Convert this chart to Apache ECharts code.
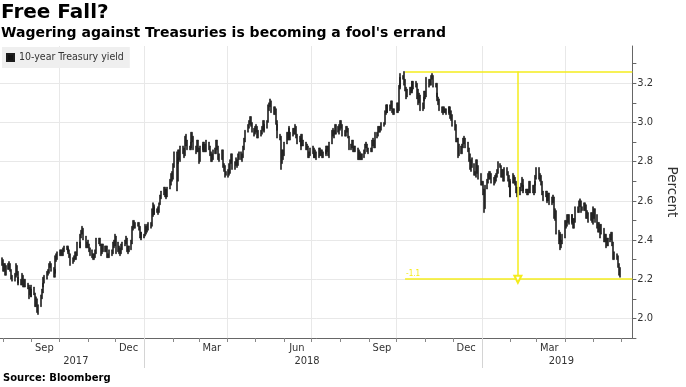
<!DOCTYPE html>
<html><head><meta charset="utf-8">
<script src="https://cdn.jsdelivr.net/npm/echarts@6/dist/echarts.min.js"></script>
<style>html,body{margin:0;padding:0;background:#fff}#c{width:686px;height:387px}</style>
</head><body><div id="c"></div>
<script>
// ---- data (10-year Treasury yield, daily low / high, weekdays from startDate) ----
const seriesName = '10-year Treasury yield';
const startDate = '2017-07-31';
const lows = [
2.27,2.24,2.24,2.22,2.22, 2.25,2.25,2.24,2.20,2.19, 2.19,2.21,2.22,2.18,2.17, 2.17,2.17,2.16,2.16,2.16,
2.15,2.10,2.12,2.11,2.11, 2.12,2.06,2.06,2.03,2.02, 2.06,2.10,2.13,2.16,2.18, 2.20,2.22,2.23,2.26,2.24,
2.21,2.21,2.23,2.29,2.30, 2.32,2.32,2.32,2.32,2.34, 2.35,2.34,2.33,2.31,2.27, 2.28,2.29,2.30,2.30,2.32,
2.36,2.36,2.41,2.43,2.40, 2.36,2.36,2.36,2.34,2.32, 2.31,2.30,2.30,2.31,2.33, 2.38,2.37,2.32,2.33,2.34,
2.34,2.34,2.31,2.31,2.31, 2.32,2.33,2.36,2.37,2.33, 2.34,2.33,2.32,2.33,2.35, 2.37,2.38,2.34,2.33,2.34,
2.35,2.38,2.45,2.46,2.46, 2.47,2.45,2.41,2.41,2.40, 2.41,2.42,2.43,2.44,2.45, 2.46,2.47,2.52,2.53,2.53,
2.54,2.53,2.54,2.58,2.61, 2.63,2.62,2.62,2.61,2.62, 2.66,2.68,2.70,2.71,2.77, 2.65,2.70,2.79,2.81,2.80,
2.84,2.82,2.83,2.88,2.86, 2.86,2.86,2.87,2.90,2.86, 2.84,2.85,2.85,2.79,2.80, 2.85,2.86,2.85,2.85,2.85,
2.86,2.83,2.80,2.80,2.81, 2.84,2.84,2.86,2.81,2.80, 2.81,2.77,2.75,2.72,2.73, 2.72,2.73,2.74,2.79,2.76,
2.76,2.78,2.77,2.78,2.81, 2.81,2.80,2.82,2.86,2.90, 2.95,2.97,2.99,2.98,2.95, 2.93,2.94,2.95,2.92,2.92,
2.93,2.94,2.96,2.96,2.95, 2.97,3.00,3.06,3.08,3.05, 3.04,3.04,2.99,2.96,2.92, 2.91,2.76,2.79,2.81,2.83,
2.89,2.91,2.92,2.91,2.91, 2.93,2.94,2.94,2.92,2.89, 2.90,2.86,2.88,2.88,2.88, 2.86,2.86,2.82,2.82,2.83,
2.84,2.82,2.82,2.82,2.81, 2.82,2.83,2.83,2.82,2.82, 2.83,2.84,2.85,2.83,2.82, 2.89,2.93,2.92,2.94,2.94,
2.95,2.94,2.96,2.97,2.93, 2.93,2.93,2.95,2.92,2.86, 2.86,2.87,2.85,2.85,2.85, 2.81,2.81,2.81,2.81,2.81,
2.82,2.84,2.87,2.85,2.84, 2.85,2.85,2.88,2.87,2.87, 2.92,2.93,2.95,2.95,2.96, 2.98,2.99,3.04,3.05,3.05,
3.06,3.07,3.05,3.04,3.04, 3.05,3.05,3.06,3.17,3.18, 3.22,3.19,3.16,3.12,3.13, 3.14,3.15,3.15,3.16,3.17,
3.18,3.12,3.09,3.10,3.06, 3.06,3.07,3.11,3.12,3.13, 3.18,3.19,3.19,3.22,3.18, 3.18,3.13,3.11,3.09,3.06,
3.05,3.04,3.05,3.05,3.04, 3.04,3.05,3.02,3.01,2.98, 2.96,2.90,2.90,2.82,2.83, 2.84,2.84,2.87,2.89,2.87,
2.85,2.80,2.76,2.75,2.77, 2.73,2.73,2.72,2.74,2.71, 2.68,2.68,2.63,2.54,2.56, 2.66,2.69,2.71,2.71,2.69,
2.68,2.69,2.70,2.72,2.74, 2.77,2.72,2.72,2.70,2.70, 2.73,2.70,2.67,2.62,2.62, 2.69,2.69,2.68,2.64,2.62,
2.63,2.65,2.67,2.65,2.64, 2.64,2.63,2.63,2.64,2.64, 2.64,2.63,2.64,2.68,2.71, 2.71,2.70,2.68,2.63,2.60,
2.62,2.60,2.59,2.60,2.58, 2.58,2.59,2.51,2.50,2.43, 2.38,2.39,2.35,2.36,2.38, 2.41,2.46,2.47,2.49,2.48,
2.49,2.48,2.46,2.46,2.49, 2.54,2.54,2.57,2.54,2.55, 2.55,2.55,2.51,2.51,2.49, 2.50,2.49,2.48,2.51,2.49,
2.46,2.44,2.44,2.41,2.43, 2.39,2.39,2.36,2.37,2.37, 2.39,2.40,2.37,2.30,2.30, 2.30,2.26,2.22,2.21
];
const highs = [
2.31,2.30,2.28,2.28,2.27, 2.28,2.29,2.28,2.25,2.22, 2.23,2.28,2.27,2.24,2.21, 2.20,2.23,2.22,2.20,2.20,
2.18,2.17,2.16,2.15,2.17, 2.16,2.13,2.11,2.10,2.07, 2.12,2.15,2.18,2.21,2.22, 2.24,2.25,2.28,2.29,2.28,
2.26,2.25,2.32,2.33,2.34, 2.35,2.35,2.35,2.36,2.37, 2.37,2.37,2.36,2.35,2.33, 2.31,2.32,2.34,2.34,2.39,
2.39,2.43,2.45,2.47,2.46, 2.42,2.39,2.40,2.38,2.36, 2.35,2.33,2.33,2.35,2.41, 2.41,2.41,2.38,2.38,2.38,
2.37,2.37,2.37,2.33,2.35, 2.35,2.39,2.40,2.43,2.42, 2.39,2.37,2.36,2.38,2.39, 2.40,2.42,2.41,2.37,2.37,
2.40,2.47,2.50,2.50,2.49, 2.49,2.49,2.47,2.44,2.44, 2.43,2.48,2.47,2.48,2.49, 2.49,2.56,2.59,2.57,2.58,
2.56,2.57,2.59,2.63,2.65, 2.67,2.67,2.66,2.66,2.67, 2.71,2.74,2.75,2.79,2.85, 2.85,2.82,2.86,2.86,2.88,
2.88,2.87,2.93,2.94,2.91, 2.88,2.90,2.95,2.95,2.93, 2.88,2.91,2.91,2.87,2.88, 2.89,2.90,2.90,2.89,2.91,
2.90,2.88,2.85,2.84,2.86, 2.87,2.91,2.91,2.88,2.84, 2.86,2.86,2.79,2.78,2.75, 2.76,2.79,2.81,2.84,2.84,
2.80,2.82,2.81,2.84,2.85, 2.85,2.84,2.88,2.92,2.96, 2.99,3.01,3.03,3.03,3.00, 2.97,2.98,2.99,2.98,2.96,
2.96,2.98,3.01,3.01,2.99, 3.01,3.09,3.10,3.12,3.11, 3.08,3.08,3.07,3.01,2.99, 2.94,2.93,2.86,2.86,2.90,
2.95,2.95,2.98,2.97,2.95, 2.97,2.97,2.99,2.98,2.94, 2.93,2.92,2.94,2.94,2.91, 2.90,2.89,2.88,2.85,2.87,
2.88,2.87,2.84,2.86,2.85, 2.87,2.87,2.86,2.86,2.85, 2.86,2.88,2.88,2.88,2.90, 2.96,2.97,2.96,2.99,2.99,
2.98,2.99,3.01,3.01,2.99, 2.96,2.98,2.98,2.97,2.93, 2.89,2.91,2.91,2.88,2.88, 2.87,2.86,2.85,2.84,2.84,
2.86,2.89,2.90,2.89,2.87, 2.87,2.91,2.92,2.91,2.95, 2.95,2.98,2.98,2.98,3.00, 3.00,3.06,3.09,3.09,3.09,
3.09,3.11,3.11,3.07,3.07, 3.10,3.10,3.19,3.23,3.25, 3.24,3.26,3.22,3.18,3.17, 3.18,3.18,3.21,3.21,3.21,
3.21,3.20,3.17,3.15,3.14, 3.10,3.13,3.16,3.16,3.23, 3.22,3.22,3.24,3.25,3.24, 3.20,3.20,3.15,3.13,3.12,
3.08,3.08,3.08,3.07,3.07, 3.08,3.08,3.08,3.06,3.04, 3.01,2.99,2.92,2.92,2.89, 2.88,2.89,2.92,2.93,2.92,
2.90,2.87,2.84,2.81,2.82, 2.79,2.75,2.81,2.81,2.78, 2.74,2.70,2.70,2.66,2.68, 2.71,2.74,2.75,2.75,2.74,
2.72,2.73,2.74,2.76,2.80, 2.79,2.78,2.76,2.76,2.77, 2.77,2.75,2.73,2.70,2.71, 2.74,2.73,2.72,2.70,2.67,
2.67,2.69,2.72,2.71,2.68, 2.66,2.66,2.66,2.70,2.70, 2.68,2.68,2.70,2.73,2.77, 2.77,2.74,2.73,2.70,2.65,
2.65,2.65,2.63,2.64,2.64, 2.62,2.63,2.62,2.56,2.55, 2.45,2.44,2.43,2.40,2.43, 2.50,2.50,2.53,2.53,2.53,
2.53,2.53,2.51,2.51,2.57, 2.57,2.60,2.61,2.60,2.57, 2.59,2.59,2.58,2.55,2.54, 2.54,2.54,2.57,2.56,2.56,
2.53,2.49,2.49,2.48,2.48, 2.46,2.43,2.43,2.41,2.41, 2.43,2.44,2.44,2.39,2.34, 2.33,2.32,2.28,2.26
];
// ---- axis ticks / labels ----
const monthTicks = ['2017-08-01','2017-09-01','2017-10-01','2017-11-01','2017-12-01','2018-01-01','2018-02-01','2018-03-01','2018-04-01','2018-05-01','2018-06-01','2018-07-01','2018-08-01','2018-09-01','2018-10-01','2018-11-01','2018-12-01','2019-01-01','2019-02-01','2019-03-01','2019-04-01','2019-05-01','2019-06-01'];
const monthLabelDates = ['2017-09-15','2017-12-15','2018-03-15','2018-06-15','2018-09-15','2018-12-15','2019-03-15'];
const monthLabels = ['Sep','Dec','Mar','Jun','Sep','Dec','Mar'];
const yearBreaks = ['2018-01-01','2019-01-01'];
const yearLabelDates = ['2017-10-19','2018-06-26','2019-03-28'];
const yearLabels = ['2017','2018','2019'];
const gridDates = ['2017-10-01','2018-01-01','2018-04-01','2018-07-01','2018-10-01','2019-01-01','2019-04-01'];
const yTicks = [1.9,2.0,2.1,2.2,2.3,2.4,2.5,2.6,2.7,2.8,2.9,3.0,3.1,3.2,3.3];
const yLabels = [2.0,2.2,2.4,2.6,2.8,3.0,3.2];
// ---- annotation ----
const annotStart = '2018-10-10';
const annotArrowDate = '2019-02-09';
const annotHigh = 3.26;
const annotLow = 2.2;
const annotText = '-1.1';

const t = s => Date.parse(s + 'T00:00:00Z');
const DAY = 86400000;
const tMin = t('2017-07-29');
const tMax = Date.UTC(2019, 5, 12, 19);
const dates = [];
for (let d = t(startDate); dates.length < lows.length; d += DAY) {
  const wd = new Date(d).getUTCDay();
  if (wd !== 0 && wd !== 6) dates.push(d);
}
const candles = dates.map((x, i) => [x, lows[i], highs[i], lows[i], highs[i]]);

const FONT = "'DejaVu Sans Condensed','DejaVu Sans',sans-serif";
const BFONT = "'DejaVu Sans',sans-serif";
const YEL = '#f4ec1c';
const INK = '#1c1c1c';
const lookup = (v, ds, labels) => {
  for (let i = 0; i < ds.length; i++) if (Math.abs(t(ds[i]) - v) < DAY) return labels[i];
  return '';
};

const chart = echarts.init(document.getElementById('c'), null, {renderer: 'canvas'});
chart.setOption({
  animation: false,
  backgroundColor: '#fff',
  title: [
    {text: 'Free Fall?', left: 1, top: 3, padding: 0,
     textStyle: {fontFamily: BFONT, fontWeight: 'bold', fontSize: 20, lineHeight: 20, color: '#000'}},
    {text: "Wagering against Treasuries is becoming a fool's errand", left: 1, top: 26.5, padding: 0,
     textStyle: {fontFamily: BFONT, fontWeight: 'bold', fontSize: 14, lineHeight: 14, color: '#000'}},
    {text: 'Source: Bloomberg', left: 3, top: 373, padding: 0,
     textStyle: {fontFamily: BFONT, fontWeight: 'bold', fontSize: 10, lineHeight: 10, color: '#000'}}
  ],
  legend: {
    left: 2, top: 47, padding: [5, 6, 5, 4], backgroundColor: '#efefef',
    itemWidth: 7, itemHeight: 7, icon: 'rect',
    textStyle: {fontFamily: FONT, fontSize: 10.5, color: '#333'},
    data: [{name: seriesName, itemStyle: {color: '#111'}}]
  },
  grid: {left: 0, right: 45, top: 46, bottom: 49, containLabel: false},
  xAxis: [
    {type: 'value', min: tMin, max: tMax, position: 'bottom', scale: true,
     axisLine: {show: true, onZero: false, lineStyle: {color: '#666', width: 1}},
     axisTick: {show: true, customValues: monthTicks.map(t), length: 4, lineStyle: {color: '#888'}},
     axisLabel: {customValues: monthLabelDates.map(t), margin: 5, fontFamily: FONT, fontSize: 11, color: '#333',
                 formatter: v => lookup(v, monthLabelDates, monthLabels)},
     splitLine: {show: false}},
    {type: 'value', min: tMin, max: tMax, position: 'bottom', scale: true,
     axisLine: {show: false, onZero: false},
     axisTick: {show: true, customValues: yearBreaks.map(t), length: 30, lineStyle: {color: '#d4d4d4'}},
     axisLabel: {customValues: yearLabelDates.map(t), margin: 18, fontFamily: FONT, fontSize: 11, color: '#333',
                 formatter: v => lookup(v, yearLabelDates, yearLabels)},
     splitLine: {show: false}},
    {type: 'value', min: tMin, max: tMax, position: 'bottom', scale: true,
     axisLine: {show: false, onZero: false},
     axisTick: {show: false, customValues: gridDates.map(t)},
     axisLabel: {show: false},
     splitLine: {show: true, lineStyle: {color: '#e8e8e8', width: 1}}}
  ],
  yAxis: [
    {type: 'value', position: 'right', min: 1.9, max: 3.39,
     axisLine: {show: true, lineStyle: {color: '#666'}},
     axisTick: {show: true, customValues: yTicks, length: 4, lineStyle: {color: '#666'}},
     axisLabel: {customValues: yLabels, margin: 5, fontFamily: FONT, fontSize: 11, color: '#333',
                 formatter: v => v.toFixed(1)},
     splitLine: {show: false},
     name: 'Percent', nameLocation: 'middle', nameRotate: -90, nameGap: 29,
     nameTextStyle: {fontFamily: BFONT, fontSize: 13.5, color: '#333'}},
    {type: 'value', position: 'right', min: 1.9, max: 3.39,
     axisLine: {show: false}, axisTick: {show: false, customValues: yLabels},
     axisLabel: {show: false},
     splitLine: {show: true, lineStyle: {color: '#e8e8e8', width: 1}}}
  ],
  series: [{
    name: seriesName, type: 'candlestick', xAxisIndex: 0, yAxisIndex: 0,
    data: candles, barWidth: 1.5,
    itemStyle: {color: INK, color0: INK, borderColor: INK, borderColor0: INK, borderWidth: 0.6},
    markLine: {
      silent: true, animation: false, symbol: ['none', 'none'],
      lineStyle: {color: YEL, width: 1.5, type: 'solid'},
      label: {show: false},
      data: [
        [{coord: [t(annotStart), annotHigh]}, {coord: [tMax, annotHigh]}],
        [{coord: [t(annotStart), annotLow],
          label: {show: true, position: 'insideStartTop', formatter: annotText, color: YEL, fontSize: 8, distance: 1, fontFamily: FONT}},
         {coord: [tMax, annotLow]}],
        [{coord: [t(annotArrowDate), annotHigh]},
         {coord: [t(annotArrowDate), annotLow], symbol: 'emptyTriangle', symbolSize: [7, 7]}]
      ]
    }
  }]
});
</script></body></html>
